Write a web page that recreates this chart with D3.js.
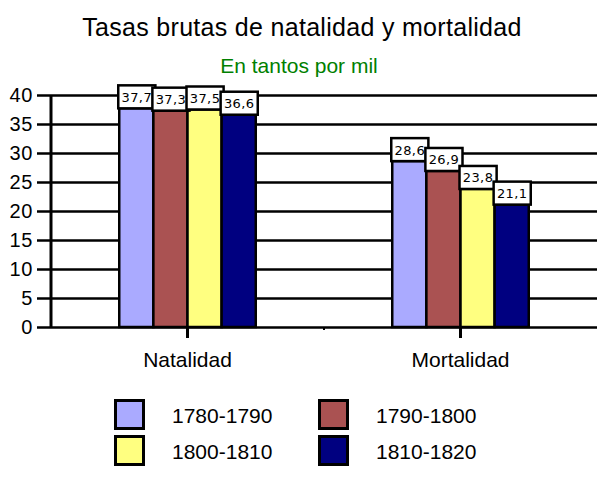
<!DOCTYPE html>
<html>
<head>
<meta charset="utf-8">
<script src="https://cdn.jsdelivr.net/npm/d3@7"></script>
<style>
  html, body { margin: 0; padding: 0; background: #fff; }
  svg { display: block; }
  text { font-family: "Liberation Sans", Arial, sans-serif; }
</style>
</head>
<body>
<svg id="chart" width="601" height="480"></svg>
<script>
const categories = ["Natalidad", "Mortalidad"];
const seriesNames = ["1780-1790", "1790-1800", "1800-1810", "1810-1820"];
const seriesColors = ["#AAAAFF", "#AA5252", "#FFFF80", "#000080"];
const values = [
  [37.7, 28.6],
  [37.3, 26.9],
  [37.5, 23.8],
  [36.6, 21.1]
];
const valueLabels = [
  ["37,7", "28,6"],
  ["37,3", "26,9"],
  ["37,5", "23,8"],
  ["36,6", "21,1"]
];
const yTicks = [0, 5, 10, 15, 20, 25, 30, 35, 40];
const titleText = "Tasas brutas de natalidad y mortalidad";
const subtitleText = "En tantos por mil";

const svg = d3.select("#chart");

const plotLeft = 51, plotRight = 597, plotTop = 95, plotBottom = 327;

const x = d3.scaleBand().domain(categories).range([plotLeft, plotRight])
  .paddingInner(0.5).paddingOuter(0.25);
const xs = d3.scaleBand().domain(d3.range(seriesNames.length)).range([0, x.bandwidth()]);
const y = d3.scaleLinear().domain([0, 40]).range([plotBottom, plotTop]);

// title
svg.append("text").attr("x", 302).attr("y", 36).attr("text-anchor", "middle")
  .style("font-size", "25px").style("letter-spacing", "0.3px").attr("fill", "#000").text(titleText);
svg.append("text").attr("x", 299).attr("y", 73).attr("text-anchor", "middle")
  .style("font-size", "21px").attr("fill", "#008000").text(subtitleText);

// gridlines
const yAxis = d3.axisLeft(y).tickValues(yTicks).tickSize(plotRight - plotLeft + 14).tickPadding(5).tickFormat(d3.format("d"));
const gy = svg.append("g").attr("transform", `translate(${plotRight},0)`).call(yAxis);
gy.select(".domain").remove();
gy.selectAll(".tick line").attr("stroke", "#000").attr("stroke-width", 2.6);
gy.selectAll(".tick text").remove();

// y tick labels
svg.append("g").selectAll("text").data(yTicks).join("text")
  .attr("x", 33).attr("y", d => y(d)).attr("dy", "0.35em")
  .attr("text-anchor", "end").style("font-size", "20px").style("letter-spacing", "0.6px").attr("fill", "#000")
  .text(d => d);

// y axis line
svg.append("line").attr("x1", plotLeft).attr("x2", plotLeft).attr("y1", y(40)).attr("y2", y(0))
  .attr("stroke", "#000").attr("stroke-width", 3);

// bars
const flat = [];
values.forEach((arr, si) => arr.forEach((v, ci) => flat.push({si, ci, v, label: valueLabels[si][ci]})));

svg.append("g").selectAll("rect").data(flat).join("rect")
  .attr("x", d => x(categories[d.ci]) + xs(d.si))
  .attr("y", d => y(d.v))
  .attr("width", xs.bandwidth())
  .attr("height", d => y(0) - y(d.v))
  .attr("fill", d => seriesColors[d.si])
  .attr("stroke", "#000").attr("stroke-width", 2.5);

// category ticks & labels
const xAxis = d3.axisBottom(x).tickSize(11).tickPadding(14);
const gx = svg.append("g").attr("transform", `translate(0,${plotBottom})`).call(xAxis);
gx.select(".domain").remove();
gx.selectAll(".tick line").remove();
gx.selectAll(".tick text").style("font-size", "21px").attr("fill", "#000")
  .style("font-family", "'Liberation Sans', Arial, sans-serif");
svg.append("g").selectAll("line").data(categories).join("line")
  .attr("x1", d => x(d) + x.bandwidth() / 2).attr("x2", d => x(d) + x.bandwidth() / 2)
  .attr("y1", plotBottom - 1).attr("y2", plotBottom + 11)
  .attr("stroke", "#000").attr("stroke-width", 3);
// boundary tick between categories
const midX = (x(categories[0]) + x.bandwidth() + x(categories[1])) / 2;
svg.append("line").attr("x1", midX).attr("x2", midX)
  .attr("y1", plotBottom).attr("y2", plotBottom + 3).attr("stroke", "#000").attr("stroke-width", 2);

// value label boxes
const lab = svg.append("g").selectAll("g").data(flat).join("g")
  .attr("transform", d => `translate(${x(categories[d.ci]) + xs(d.si) - 1},${y(d.v) - 23})`);
lab.append("rect").attr("width", xs.bandwidth() + 3).attr("height", 23)
  .attr("fill", "#fff").attr("stroke", "#000").attr("stroke-width", 2.5);
lab.append("text").attr("x", (xs.bandwidth() + 3) / 2).attr("y", 16.5)
  .attr("text-anchor", "middle").style("font-family", "'DejaVu Sans', sans-serif")
  .style("font-size", "13px").style("letter-spacing", "0.4px").attr("fill", "#000")
  .text(d => d.label);

// legend
const legendX = [114, 318], legendY = [399, 435];
const lg = svg.append("g").selectAll("g").data(seriesNames).join("g")
  .attr("transform", (d, i) => `translate(${legendX[i % 2]},${legendY[Math.floor(i / 2)]})`);
lg.append("rect").attr("x", 1.5).attr("y", 1.5).attr("width", 28).attr("height", 28)
  .attr("fill", (d, i) => seriesColors[i]).attr("stroke", "#000").attr("stroke-width", 3);
lg.append("text").attr("x", 58).attr("y", 24).style("font-size", "21px").attr("fill", "#000")
  .text(d => d);
</script>
</body>
</html>
